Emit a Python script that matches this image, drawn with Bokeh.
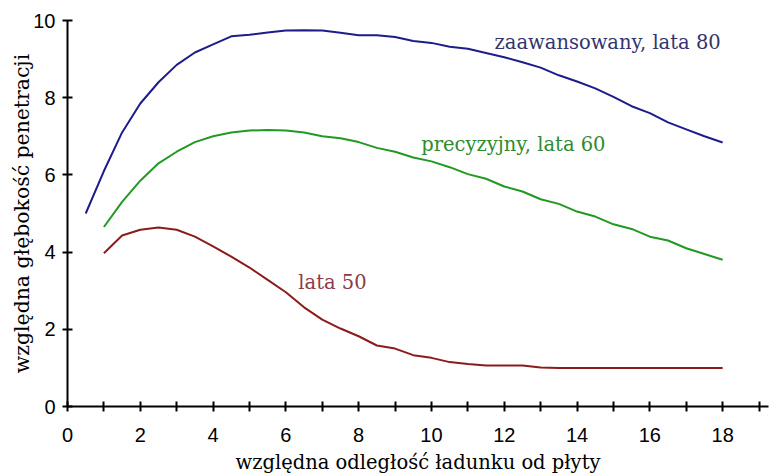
from bokeh.plotting import figure
from bokeh.models import FixedTicker, Range1d
from bokeh.core.properties import value
from bokeh.embed import file_html
from bokeh.resources import INLINE

# ---- data ----
x_adv = [0.5, 1, 1.5, 2, 2.5, 3, 3.5, 4, 4.5, 5, 5.5, 6, 6.5, 7, 7.5, 8, 8.5, 9, 9.5,
         10, 10.5, 11, 11.5, 12, 12.5, 13, 13.5, 14, 14.5, 15, 15.5, 16, 16.5, 17, 17.5, 18]
y_adv = [5.0, 6.1, 7.1, 7.85, 8.4, 8.85, 9.17, 9.38, 9.59, 9.63, 9.69, 9.74, 9.75, 9.74, 9.68,
         9.62, 9.62, 9.57, 9.47, 9.42, 9.32, 9.27, 9.16, 9.05, 8.92, 8.78, 8.58, 8.42, 8.24,
         8.02, 7.78, 7.6, 7.36, 7.18, 7.0, 6.84]

x_prec = [1, 1.5, 2, 2.5, 3, 3.5, 4, 4.5, 5, 5.5, 6, 6.5, 7, 7.5, 8, 8.5, 9, 9.5,
          10, 10.5, 11, 11.5, 12, 12.5, 13, 13.5, 14, 14.5, 15, 15.5, 16, 16.5, 17, 17.5, 18]
y_prec = [4.65, 5.3, 5.85, 6.3, 6.6, 6.85, 7.0, 7.1, 7.15, 7.16, 7.15, 7.1, 7.0, 6.95, 6.85,
          6.7, 6.6, 6.45, 6.35, 6.2, 6.02, 5.9, 5.7, 5.57, 5.37, 5.25, 5.05, 4.92, 4.72,
          4.6, 4.4, 4.3, 4.1, 3.95, 3.8]

x_50 = [1, 1.5, 2, 2.5, 3, 3.5, 4, 4.5, 5, 5.5, 6, 6.5, 7, 7.5, 8, 8.5, 9, 9.5,
        10, 10.5, 11, 11.5, 12, 12.5, 13, 13.5, 14, 14.5, 15, 15.5, 16, 16.5, 17, 17.5, 18]
y_50 = [3.97, 4.43, 4.58, 4.64, 4.58, 4.4, 4.15, 3.88, 3.6, 3.28, 2.96, 2.57, 2.25, 2.02, 1.82,
        1.58, 1.5, 1.33, 1.26, 1.15, 1.1, 1.06, 1.06, 1.06, 1.01, 1.0, 1.0, 1.0, 1.0, 1.0,
        1.0, 1.0, 1.0, 1.0, 1.0]

series_names = ["zaawansowany, lata 80", "precyzyjny, lata 60", "lata 50"]
label_x = [14.84, 12.25, 7.28]
label_y = [9.43, 6.78, 3.22]

x_major_ticks = [0, 2, 4, 6, 8, 10, 12, 14, 16, 18]
x_minor_ticks = [1, 3, 5, 7, 9, 11, 13, 15, 17, 19]
y_ticks = [0, 2, 4, 6, 8, 10]

x_title = "względna odległość ładunku od płyty"
y_title = "względna głębokość penetracji"

line_colors = ["#1c1c8a", "#229922", "#8b1c1c"]
text_colors = ["#34346e", "#2e8b2e", "#8e3a48"]

SERIF = "DejaVu Serif"
SANS = "Liberation Sans, Roboto"

# ---- figure ----
p = figure(width=769, height=476, output_backend="svg",
           toolbar_location=None, x_range=Range1d(0, 19.26), y_range=Range1d(0, 10),
           min_border_left=67, min_border_right=1, min_border_top=20, min_border_bottom=68)
p.outline_line_color = None
p.grid.visible = False
p.background_fill_color = "white"
p.border_fill_color = "white"

for xs, ys, c in zip([x_adv, x_prec, x_50], [y_adv, y_prec, y_50], line_colors):
    p.line(xs, ys, line_color=c, line_width=2)

p.text(x=label_x, y=label_y, text=series_names, text_color=text_colors,
       text_font=value(SERIF), text_font_size="19.5px",
       text_align="center", text_baseline="middle")

for ax in (p.xaxis[0], p.yaxis[0]):
    ax.axis_line_color = "black"
    ax.axis_line_width = 2
    ax.major_tick_line_color = "black"
    ax.major_tick_line_width = 2
    ax.major_tick_in = 5
    ax.major_tick_out = 5
    ax.major_label_text_font = SANS
    ax.major_label_text_font_size = "20px"
    ax.major_label_text_color = "black"
    ax.axis_label_text_font = SERIF
    ax.axis_label_text_font_style = "normal"
    ax.axis_label_text_color = "black"

p.xaxis.axis_label_text_font_size = "19.5px"
p.yaxis.axis_label_text_font_size = "20.4px"

p.xaxis.ticker = FixedTicker(ticks=x_major_ticks, minor_ticks=x_minor_ticks)
p.xaxis.minor_tick_line_color = "black"
p.xaxis.minor_tick_line_width = 2
p.xaxis.minor_tick_in = 5
p.xaxis.minor_tick_out = 5
p.xaxis.major_label_standoff = 16
p.xaxis.axis_label = x_title
p.xaxis.axis_label_standoff = 6

p.yaxis.ticker = FixedTicker(ticks=y_ticks, minor_ticks=[])
p.yaxis.minor_tick_line_color = None
p.yaxis.major_label_standoff = 7
p.yaxis.major_label_orientation = "horizontal"
p.yaxis.axis_label = y_title
p.yaxis.axis_label_standoff = -4

open("out.html", "w").write(file_html(p, INLINE))
